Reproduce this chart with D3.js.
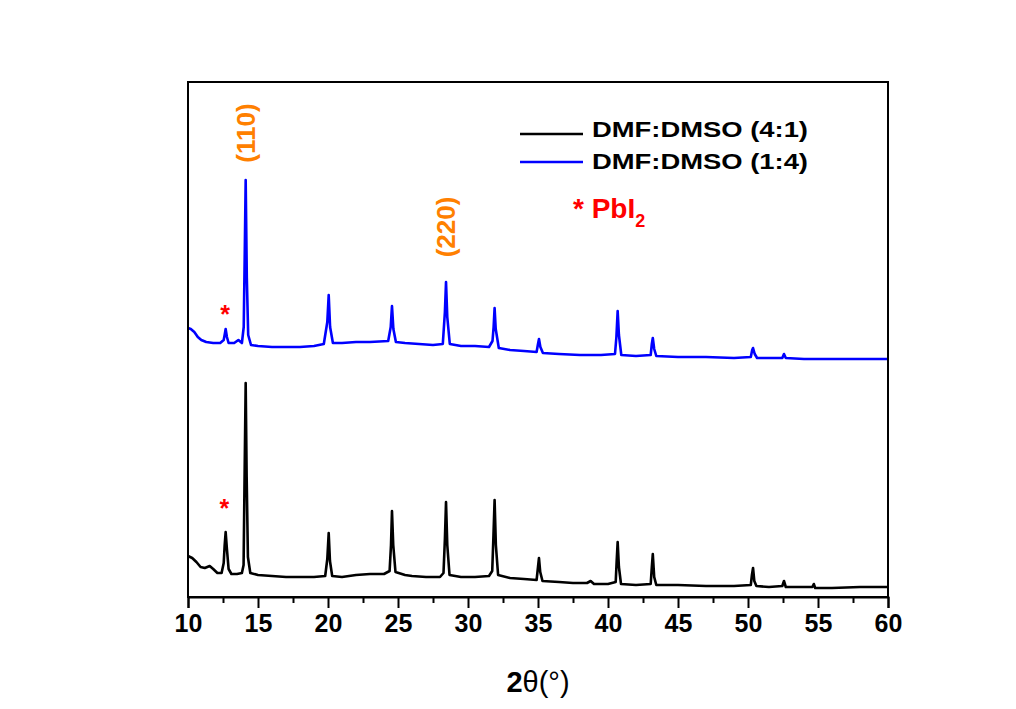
<!DOCTYPE html>
<html>
<head>
<meta charset="utf-8">
<script src="https://cdn.jsdelivr.net/npm/d3@7"></script>
<style>
  body { margin: 0; background: #fff; }
  text { font-family: Arial, "Liberation Sans", sans-serif; }
</style>
</head>
<body>
<script>
// XRD patterns, [2theta (deg), intensity (a.u.)]
var dmf41 = [
  [10.0,41],[10.3,39],[10.6,35],[10.9,30],[11.2,29],[11.55,31],[11.8,28],[12.1,24],[12.4,24],
  [12.55,34],[12.62,52],[12.69,65],[12.78,48],[12.9,28],[13.1,23],[13.5,23],[13.85,24],
  [13.97,32],[14.05,130],[14.12,214],[14.19,120],[14.28,40],[14.45,24],[15,22],[16,21],
  [17,20],[18,20],[19,20],[19.8,21],[19.95,38],[20.05,64],[20.14,36],[20.3,21],[21,20],
  [22,22],[23,23],[24,23],[24.4,26],[24.5,52],[24.57,86],[24.66,52],[24.82,25],[25.5,22],
  [26,21],[27,20],[28,20],[28.25,24],[28.35,58],[28.43,95],[28.52,52],[28.68,22],[29.5,20],
  [30.5,20],[31.5,21],[31.73,26],[31.82,62],[31.9,97],[31.99,52],[32.15,22],[33,19],
  [34,18],[34.9,17],[35.0,30],[35.07,39],[35.16,25],[35.32,16],[36.5,15],[37.5,14],
  [38.5,14],[38.76,16],[39,13],[40,13],[40.55,15],[40.62,36],[40.69,55],[40.78,30],
  [40.93,13],[42,12],[43.05,13],[43.13,30],[43.2,43],[43.3,20],[43.45,12],[45,12],
  [47,11],[49,11],[50.2,12],[50.28,22],[50.36,29],[50.45,16],[50.6,11],[51.5,10],
  [52.45,11],[52.57,16],[52.7,10],[53.5,10],[54.6,10],[54.7,13],[54.8,9],[56,9],
  [58,10],[60,10]
];
var dmf14 = [
  [10.0,269],[10.2,268],[10.45,265],[10.7,260],[10.95,257],[11.3,255],[11.8,254],[12.3,254],
  [12.55,257],[12.63,263],[12.69,268],[12.78,260],[12.9,254],[13.3,254],[13.6,257],
  [13.85,254],[13.98,270],[14.05,340],[14.12,417],[14.2,320],[14.3,262],[14.5,252],
  [15,251],[16,250],[17,250],[18,250],[19,251],[19.7,253],[19.95,275],[20.05,302],
  [20.15,270],[20.35,254],[21,254],[22,255],[23,255],[24.3,256],[24.48,270],[24.57,291],
  [24.67,268],[24.85,255],[25.5,254],[26.5,253],[27.5,252],[28.2,253],[28.35,285],
  [28.43,315],[28.52,280],[28.7,253],[29.5,251],[30.5,251],[31.5,250],[31.75,256],
  [31.83,270],[31.9,289],[31.98,268],[32.2,249],[33,247],[34,246],[34.9,245],[35.0,253],
  [35.07,258],[35.17,250],[35.35,244],[36.5,243],[38,242],[39.5,242],[40.5,243],
  [40.6,260],[40.69,286],[40.78,262],[40.95,242],[42,241],[43.05,242],[43.13,253],
  [43.2,259],[43.3,248],[43.45,241],[45,240],[47,240],[49,239],[50.2,240],[50.3,247],
  [50.36,249],[50.48,243],[50.65,239],[51.5,239],[52.45,239],[52.57,243],[52.7,239],
  [54,238],[56,238],[58,238],[60,238]
];
var seriesNames = ["DMF:DMSO (4:1)", "DMF:DMSO (1:4)"];
var seriesColors = ["#000000", "#0000ff"];
var xTicks = [10, 15, 20, 25, 30, 35, 40, 45, 50, 55, 60];
// peak labels: [2theta, intensity at label centre, text]
var peakLabels = [[14.12, 464, "(110)"], [28.43, 370, "(220)"]];
// PbI2 markers: [2theta, intensity]
var pbi2Marks = [[12.65, 274], [12.6, 80]];

var margin = {top: 82, right: 128, bottom: 112, left: 188},
    width = 1016 - margin.left - margin.right,
    height = 709 - margin.top - margin.bottom;

var x = d3.scaleLinear().domain([10, 60]).range([0, width]);
var y = d3.scaleLinear().domain([0, 515]).range([height, 0]);

var svg = d3.select("body").append("svg")
    .attr("width", 1016)
    .attr("height", 709)
  .append("g")
    .attr("transform", "translate(" + margin.left + "," + margin.top + ")");

var line = d3.line()
    .x(function(d) { return x(d[0]); })
    .y(function(d) { return y(d[1]); });

[dmf41, dmf14].forEach(function(s, i) {
  svg.append("path")
      .datum(s)
      .attr("d", line)
      .style("fill", "none")
      .style("stroke", seriesColors[i])
      .style("stroke-width", 2.6)
      .style("stroke-linejoin", "round");
});

// frame
svg.append("rect")
    .attr("width", width)
    .attr("height", height)
    .style("fill", "none")
    .style("stroke", "#000")
    .style("stroke-width", 2);

// minor ticks
svg.append("g")
    .attr("transform", "translate(0," + height + ")")
    .call(d3.axisBottom(x).tickValues(d3.range(12.5, 60, 5)).tickSize(6).tickFormat(""))
    .call(function(g) { g.select(".domain").remove(); })
    .selectAll("line").style("stroke-width", 2);

// major ticks and labels
var xAxis = svg.append("g")
    .attr("transform", "translate(0," + height + ")")
    .call(d3.axisBottom(x).tickValues(xTicks).tickSize(11).tickPadding(6).tickFormat(d3.format("d")));
xAxis.select(".domain").style("stroke-width", 2);
xAxis.selectAll("line").style("stroke-width", 2);
xAxis.selectAll("text")
    .style("font-family", "Arial, 'Liberation Sans', sans-serif")
    .style("font-size", "25px")
    .style("font-weight", "bold")
    .style("fill", "#000");

// axis title
var title = svg.append("text")
    .attr("x", width / 2)
    .attr("y", 692 - margin.top)
    .style("text-anchor", "middle")
    .style("font-size", "29px")
    .style("fill", "#000");
title.append("tspan").style("font-weight", "bold").text("2");
title.append("tspan").text("θ(°)");

// peak labels
svg.selectAll(".peak")
    .data(peakLabels).enter()
    .append("text")
    .attr("class", "peak")
    .attr("transform", function(d) { return "translate(" + (x(d[0]) + 9) + "," + y(d[1]) + ") rotate(-90)"; })
    .style("text-anchor", "middle")
    .style("font-size", "26px")
    .style("font-weight", "bold")
    .style("fill", "#ff8000")
    .text(function(d) { return d[2]; });

// PbI2 asterisks
svg.selectAll(".star")
    .data(pbi2Marks).enter()
    .append("text")
    .attr("class", "star")
    .attr("x", function(d) { return x(d[0]); })
    .attr("y", function(d) { return y(d[1]); })
    .style("text-anchor", "middle")
    .style("font-size", "25px")
    .style("font-weight", "bold")
    .style("fill", "#ff0000")
    .text("*");

// legend
var legend = svg.selectAll(".legend")
    .data(seriesNames).enter()
    .append("g")
    .attr("class", "legend");
legend.append("line")
    .attr("x1", 520 - margin.left)
    .attr("x2", 583 - margin.left)
    .attr("y1", function(d, i) { return (i ? 162 : 134) - margin.top; })
    .attr("y2", function(d, i) { return (i ? 162 : 134) - margin.top; })
    .style("stroke", function(d, i) { return seriesColors[i]; })
    .style("stroke-width", 2.5);
legend.append("text")
    .attr("x", 592 - margin.left)
    .attr("y", function(d, i) { return (i ? 169 : 137) - margin.top; })
    .attr("textLength", 216)
    .attr("lengthAdjust", "spacingAndGlyphs")
    .style("font-size", "22px")
    .style("font-weight", "bold")
    .style("fill", "#000")
    .text(function(d) { return d; });

var pb = svg.append("text")
    .attr("x", 573 - margin.left)
    .attr("y", 218 - margin.top)
    .style("font-size", "28px")
    .style("font-weight", "bold")
    .style("fill", "#ff0000");
pb.append("tspan").text("* ");
pb.append("tspan").text("PbI");
pb.append("tspan").attr("dy", 9).style("font-size", "18px").text("2");
</script>
</body>
</html>
